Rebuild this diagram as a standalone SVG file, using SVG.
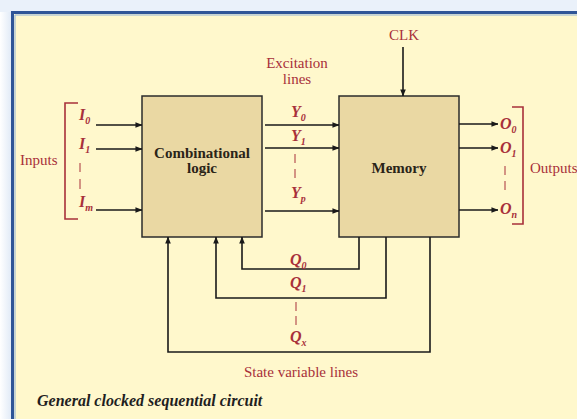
<svg xmlns="http://www.w3.org/2000/svg" width="577" height="419" viewBox="0 0 577 419">
  <defs>
    <linearGradient id="edge" x1="0" y1="0" x2="1" y2="0">
      <stop offset="0" stop-color="#ffffff"/>
      <stop offset="1" stop-color="#dfe9f6"/>
    </linearGradient>
    <marker id="arr" viewBox="0 0 8 8" refX="7.5" refY="4" markerWidth="7" markerHeight="7" markerUnits="userSpaceOnUse" orient="auto">
      <path d="M0,0.8 L8,4 L0,7.2 Z" fill="#1a1a1a"/>
    </marker>
  </defs>
  <style>
    .box { fill: #ead8a3; stroke: #2b2b2b; stroke-width: 1.5; }
    .arrow { fill: none; stroke: #1a1a1a; stroke-width: 1.6; marker-end: url(#arr); }
    .brk { fill: none; stroke: #a8303a; stroke-width: 1.6; }
    .tick { fill: none; stroke: #a8303a; stroke-width: 1; }
    .lbl { font-family: "Liberation Serif", "Times New Roman", serif; font-size: 15px; fill: #a8303a; }
    .sig { font-family: "Liberation Serif", "Times New Roman", serif; font-size: 16px; font-style: italic; font-weight: bold; fill: #a8303a; }
    .sub { font-size: 10px; }
    .name { font-family: "Liberation Serif", "Times New Roman", serif; font-size: 15px; font-weight: bold; fill: #2a2418; text-anchor: middle; }
    .cap { font-family: "Liberation Serif", "Times New Roman", serif; font-size: 16px; font-style: italic; font-weight: bold; fill: #1f1f1f; }
  </style>

  <!-- page edge and panel frame -->
  <rect x="0" y="0" width="577" height="419" fill="#ffffff"/>
  <rect x="0" y="0" width="12" height="419" fill="url(#edge)"/>
  <rect x="0" y="0" width="577" height="12" fill="#eaf1fa"/>
  <rect x="12" y="12" width="570" height="412" fill="#fff8cc"/>
  <path d="M12.5,419 L12.5,12.5 L577,12.5" fill="none" stroke="#2f5597" stroke-width="3"/>
  <path d="M15,419 L15,15 L577,15" fill="none" stroke="#8fb0d8" stroke-width="1"/>

  <!-- blocks -->
  <g id="combinational">
    <rect class="box" x="142" y="96" width="120" height="141"/>
    <text class="name" x="202" y="158">Combinational</text>
    <text class="name" x="202" y="173">logic</text>
  </g>
  <g id="memory">
    <rect class="box" x="339" y="96" width="120" height="141"/>
    <text class="name" x="399" y="173">Memory</text>
  </g>

  <!-- signal lines -->
  <g id="connectors">
    <!-- inputs -->
    <line class="arrow" x1="96" y1="125" x2="142" y2="125"/>
    <line class="arrow" x1="96" y1="149" x2="142" y2="149"/>
    <line class="arrow" x1="96" y1="210" x2="142" y2="210"/>
    <!-- excitation lines -->
    <line class="arrow" x1="265" y1="125" x2="339" y2="125"/>
    <line class="arrow" x1="265" y1="148" x2="339" y2="148"/>
    <line class="arrow" x1="265" y1="211" x2="339" y2="211"/>
    <!-- clock -->
    <line class="arrow" x1="403" y1="47" x2="403" y2="96"/>
    <!-- outputs -->
    <line class="arrow" x1="459" y1="124" x2="498" y2="124"/>
    <line class="arrow" x1="459" y1="148" x2="498" y2="148"/>
    <line class="arrow" x1="459" y1="210" x2="498" y2="210"/>
    <!-- state feedback -->
    <path class="arrow" d="M359,237 L359,269 L242,269 L242,237"/>
    <path class="arrow" d="M386,237 L386,298 L216,298 L216,237"/>
    <path class="arrow" d="M430,237 L430,352 L168,352 L168,237"/>
  </g>

  <!-- input labels -->
  <g id="inputs">
    <text class="lbl" x="20" y="165">Inputs</text>
    <path class="brk" d="M78,103 L65,103 L65,219 L78,219"/>
    <text class="sig" x="79" y="120">I<tspan class="sub" dy="4">0</tspan></text>
    <text class="sig" x="79" y="149">I<tspan class="sub" dy="4">1</tspan></text>
    <path class="tick" d="M80,163 V172 M80,179 V189"/>
    <text class="sig" x="79" y="207">I<tspan class="sub" dy="4">m</tspan></text>
  </g>

  <!-- excitation labels -->
  <g id="excitation">
    <text class="lbl" x="297" y="68" text-anchor="middle">Excitation</text>
    <text class="lbl" x="297" y="84" text-anchor="middle">lines</text>
    <text class="sig" x="291" y="117">Y<tspan class="sub" dy="4">0</tspan></text>
    <text class="sig" x="291" y="141">Y<tspan class="sub" dy="4">1</tspan></text>
    <path class="tick" d="M295,154 V163 M295,169 V178"/>
    <text class="sig" x="291" y="198">Y<tspan class="sub" dy="4">p</tspan></text>
  </g>

  <g id="clk">
    <text class="lbl" x="404" y="40" text-anchor="middle">CLK</text>
  </g>

  <!-- output labels -->
  <g id="outputs">
    <text class="sig" x="500" y="129">O<tspan class="sub" dy="4">0</tspan></text>
    <text class="sig" x="500" y="153">O<tspan class="sub" dy="4">1</tspan></text>
    <path class="tick" d="M505,166 V175 M505,181 V190"/>
    <text class="sig" x="500" y="214">O<tspan class="sub" dy="4">n</tspan></text>
    <path class="brk" d="M512,107 L523,107 L523,224 L512,224"/>
    <text class="lbl" x="530" y="173">Outputs</text>
  </g>

  <!-- state variable labels -->
  <g id="state">
    <text class="sig" x="290" y="265">Q<tspan class="sub" dy="4">0</tspan></text>
    <text class="sig" x="290" y="288">Q<tspan class="sub" dy="4">1</tspan></text>
    <path class="tick" d="M296,302 V311 M296,316 V325"/>
    <text class="sig" x="290" y="342">Q<tspan class="sub" dy="4">x</tspan></text>
    <text class="lbl" x="301" y="377" text-anchor="middle">State variable lines</text>
  </g>

  <text class="cap" x="37" y="406">General clocked sequential circuit</text>
</svg>
